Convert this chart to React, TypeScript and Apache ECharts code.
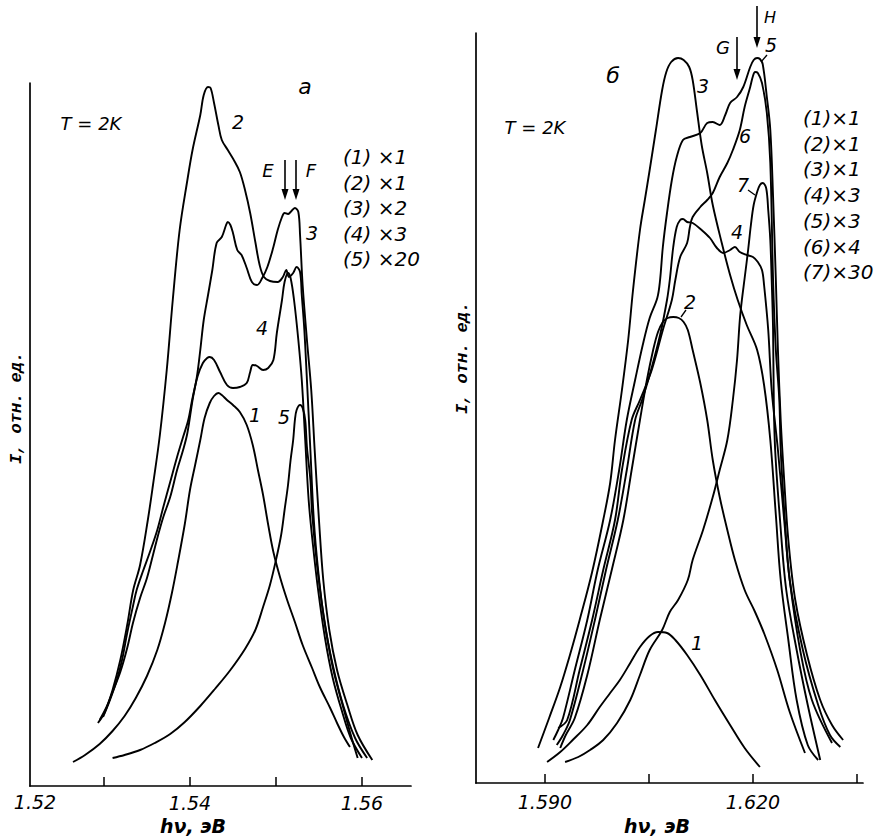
import React, { useEffect, useRef } from "react";
import * as echarts from "echarts";

// ---- axis ticks / labels ----
const panelATicks = [1.53, 1.54, 1.55, 1.56];
const panelALabelValues = [1.52, 1.54, 1.56];
const panelBTicks = [1.59, 1.605, 1.62, 1.635];
const panelBLabelValues = [1.59, 1.62];

// ---- intensity multipliers (legend) ----
const panelAFactors = [1, 1, 2, 3, 20];
const panelBFactors = [1, 1, 1, 3, 3, 4, 30];

// ---- panel а : [hν (eV), I (rel. units)] ----
const a1 = [
  [1.5264, 2.4], [1.5278, 3.1], [1.5295, 4.2], [1.531, 5.5], [1.5324, 7.0], [1.5337, 8.8],
  [1.535, 11.0], [1.5362, 13.6], [1.5371, 16.3], [1.5379, 19.3], [1.5386, 22.4], [1.5394, 26.2],
  [1.54, 29.6], [1.5406, 32.1], [1.5412, 34.6], [1.5417, 36.8], [1.5423, 38.3], [1.5428, 39.0],
  [1.5433, 39.3], [1.5437, 39.1], [1.5443, 38.6], [1.545, 38.1], [1.5458, 37.4], [1.5466, 36.1],
  [1.5473, 34.1], [1.5479, 31.6], [1.5485, 29.1], [1.5491, 26.1], [1.5497, 23.4], [1.5505, 20.8],
  [1.5513, 18.6], [1.5522, 16.4], [1.5531, 14.1], [1.5542, 11.8], [1.5551, 9.9], [1.5563, 7.8],
  [1.5571, 6.3], [1.5579, 4.9], [1.5586, 3.9],
];
const a2 = [
  [1.5293, 6.3], [1.5301, 7.4], [1.531, 9.6], [1.5319, 12.6], [1.5327, 16.1], [1.5334, 19.6],
  [1.5342, 22.1], [1.5351, 26.6], [1.5357, 30.1], [1.5365, 35.1], [1.5373, 41.6], [1.538, 48.6],
  [1.5388, 55.6], [1.5397, 60.6], [1.5403, 63.6], [1.5412, 67.1], [1.5416, 69.1], [1.5421, 69.9],
  [1.5424, 69.8], [1.5428, 68.3], [1.5433, 66.1], [1.5437, 64.6], [1.5444, 63.6], [1.5451, 62.6],
  [1.5458, 61.4], [1.5464, 59.6], [1.547, 57.3], [1.5476, 54.4], [1.5481, 52.1], [1.5486, 50.9],
  [1.5493, 50.5], [1.5502, 50.4], [1.5508, 50.9], [1.5512, 51.6], [1.5515, 50.9], [1.552, 51.3],
  [1.5524, 51.9], [1.5528, 51.4], [1.553, 49.1], [1.5533, 45.6], [1.5536, 40.6], [1.554, 33.6],
  [1.5544, 26.6], [1.5549, 21.6], [1.5556, 16.6], [1.5566, 12.1], [1.5578, 8.1], [1.5592, 4.8],
  [1.5606, 2.8],
];
const a3 = [
  [1.5295, 6.6], [1.5303, 7.9], [1.531, 9.4], [1.5319, 11.4], [1.5327, 13.8], [1.5334, 16.4],
  [1.5342, 18.8], [1.535, 20.8], [1.5357, 23.1], [1.5363, 25.1], [1.5369, 26.9], [1.5377, 28.9],
  [1.5385, 31.6], [1.5392, 33.6], [1.5397, 35.3], [1.5403, 38.6], [1.5408, 40.9], [1.5412, 43.6],
  [1.5416, 46.6], [1.5421, 49.1], [1.5426, 51.6], [1.5431, 54.3], [1.5437, 54.9], [1.5442, 56.1],
  [1.5444, 56.4], [1.5447, 56.1], [1.545, 55.3], [1.5455, 53.6], [1.546, 53.1], [1.5466, 51.8],
  [1.5472, 50.4], [1.5478, 50.1], [1.5484, 50.8], [1.549, 51.9], [1.5497, 53.9], [1.5502, 55.6],
  [1.5507, 56.9], [1.551, 57.3], [1.5514, 57.2], [1.5517, 57.4], [1.5522, 57.8], [1.5526, 57.4],
  [1.5528, 55.1], [1.5531, 50.1], [1.5536, 44.6], [1.5541, 39.6], [1.5545, 33.6], [1.555, 26.6],
  [1.5555, 20.6], [1.5562, 15.6], [1.5571, 11.6], [1.5583, 8.1], [1.5595, 5.1], [1.5612, 2.6],
];
const a4 = [
  [1.5299, 6.9], [1.5307, 8.6], [1.5315, 10.6], [1.5321, 12.6], [1.5327, 15.3], [1.5334, 18.1],
  [1.5338, 19.6], [1.5345, 21.4], [1.5353, 23.3], [1.5362, 25.6], [1.5369, 27.9], [1.5377, 30.4],
  [1.5385, 32.9], [1.5392, 34.9], [1.5398, 36.6], [1.5403, 38.8], [1.5409, 41.0], [1.5415, 42.3],
  [1.542, 42.8], [1.5423, 42.9], [1.5428, 42.6], [1.5435, 41.4], [1.5443, 40.1], [1.545, 39.8],
  [1.5458, 39.9], [1.5466, 40.3], [1.547, 41.4], [1.5473, 42.1], [1.5478, 42.0], [1.5485, 41.6],
  [1.5491, 41.8], [1.5497, 42.6], [1.5501, 45.3], [1.5507, 48.6], [1.551, 50.4], [1.5514, 51.3],
  [1.5517, 50.8], [1.5521, 48.6], [1.5526, 44.6], [1.553, 40.6], [1.5534, 34.6], [1.5538, 28.6],
  [1.5543, 24.1], [1.5549, 19.6], [1.5557, 14.8], [1.5566, 10.8], [1.5577, 7.4], [1.5587, 4.8],
  [1.56, 2.8],
];
const a5 = [
  [1.531, 2.8], [1.5324, 3.1], [1.5342, 3.6], [1.5359, 4.3], [1.5377, 5.2], [1.5394, 6.4],
  [1.5412, 8.0], [1.5429, 9.7], [1.5447, 11.6], [1.5464, 13.7], [1.5476, 15.6], [1.5485, 17.9],
  [1.5493, 20.1], [1.55, 22.6], [1.5506, 25.1], [1.551, 27.6], [1.5514, 30.1], [1.5517, 32.6],
  [1.552, 34.6], [1.5522, 36.6], [1.5524, 37.6], [1.5528, 38.1], [1.5531, 37.8], [1.5534, 36.6],
  [1.5536, 33.9], [1.554, 30.6], [1.5542, 27.3], [1.5548, 21.9], [1.5555, 17.3], [1.5566, 11.9],
  [1.558, 7.3], [1.5588, 4.8], [1.5595, 2.8],
];

// ---- panel б : [hν (eV), I (rel. units)] ----
const b1 = [
  [1.5903, 2.1], [1.5922, 3.1], [1.594, 4.3], [1.5961, 5.8], [1.5979, 7.6], [1.5994, 9.0],
  [1.6008, 10.3], [1.6023, 12.0], [1.6037, 13.6], [1.6051, 14.7], [1.6063, 15.1], [1.6076, 15.0],
  [1.6088, 14.3], [1.6105, 12.8], [1.6124, 10.8], [1.6145, 8.3], [1.6167, 5.8], [1.6188, 3.5],
  [1.621, 1.6],
];
const b2 = [
  [1.5922, 3.5], [1.593, 4.8], [1.5943, 6.5], [1.5961, 10.8], [1.5979, 16.3], [1.5997, 21.5],
  [1.6013, 26.3], [1.6025, 31.3], [1.6037, 36.3], [1.6047, 40.3], [1.6056, 43.3], [1.6063, 45.1],
  [1.607, 46.1], [1.6077, 46.5], [1.6085, 46.6], [1.6093, 46.5], [1.61, 46.1], [1.6106, 45.3],
  [1.6113, 43.3], [1.6124, 40.0], [1.6134, 36.3], [1.6142, 32.3], [1.6152, 28.6], [1.6163, 25.3],
  [1.6174, 22.3], [1.6188, 19.3], [1.6203, 17.1], [1.6217, 14.8], [1.6235, 11.3], [1.6253, 7.1],
  [1.6275, 3.0],
];
const b3 = [
  [1.589, 3.5], [1.5906, 6.5], [1.5922, 9.6], [1.5936, 12.8], [1.595, 16.3], [1.5968, 21.1],
  [1.5984, 26.3], [1.5994, 30.0], [1.6001, 34.3], [1.6011, 39.3], [1.602, 44.3], [1.6027, 49.3],
  [1.6037, 55.3], [1.6044, 58.3], [1.6051, 61.3], [1.606, 65.3], [1.6069, 69.3], [1.6075, 71.1],
  [1.6082, 72.1], [1.6092, 72.5], [1.61, 72.3], [1.6108, 71.6], [1.6113, 70.3], [1.6119, 67.3],
  [1.6126, 63.8], [1.6134, 61.0], [1.6142, 57.8], [1.6155, 54.0], [1.6167, 50.8], [1.6178, 48.3],
  [1.6191, 45.8], [1.6206, 43.3], [1.6216, 39.8], [1.6225, 34.3], [1.6233, 26.8], [1.624, 20.3],
  [1.6251, 14.3], [1.6263, 8.3], [1.6279, 3.8], [1.6294, 2.3],
];
const b4 = [
  [1.5917, 3.8], [1.5926, 4.8], [1.5936, 6.3], [1.5955, 11.3], [1.5972, 16.3], [1.5988, 21.3],
  [1.6005, 26.3], [1.6018, 31.3], [1.603, 36.3], [1.604, 38.3], [1.6051, 40.8], [1.6066, 44.8],
  [1.6076, 48.3], [1.608, 50.3], [1.6085, 53.6], [1.609, 55.6], [1.6095, 56.3], [1.6099, 56.4],
  [1.6105, 56.1], [1.6113, 56.0], [1.6126, 55.3], [1.6138, 54.5], [1.6148, 53.5], [1.6157, 53.0],
  [1.6167, 53.3], [1.6174, 53.6], [1.6181, 53.1], [1.6191, 52.8], [1.62, 52.6], [1.6207, 52.1],
  [1.6213, 51.3], [1.6216, 49.8], [1.6222, 45.3], [1.6227, 39.3], [1.6236, 33.3], [1.6245, 26.3],
  [1.6253, 20.3], [1.6268, 13.3], [1.6285, 8.3], [1.6314, 4.0],
];
const b5 = [
  [1.5912, 4.3], [1.5919, 5.3], [1.5926, 6.5], [1.5943, 11.3], [1.5961, 16.3], [1.5976, 21.3],
  [1.5994, 26.3], [1.6007, 31.3], [1.6018, 36.3], [1.603, 40.3], [1.6041, 43.8], [1.6051, 46.5],
  [1.6062, 48.5], [1.6066, 50.3], [1.607, 53.6], [1.6076, 57.0], [1.6083, 60.3], [1.609, 62.6],
  [1.6099, 64.3], [1.6109, 64.6], [1.6124, 65.0], [1.6134, 66.0], [1.6142, 66.1], [1.6152, 65.8],
  [1.616, 66.8], [1.6167, 68.0], [1.6177, 68.6], [1.6186, 69.6], [1.6196, 71.6], [1.6201, 72.3],
  [1.6206, 72.5], [1.621, 72.4], [1.6214, 71.9], [1.622, 68.6], [1.6225, 65.3], [1.6229, 58.6],
  [1.6233, 50.3], [1.6236, 43.3], [1.624, 36.3], [1.6245, 30.3], [1.6251, 24.3], [1.6261, 18.3],
  [1.6278, 12.8], [1.6297, 8.3], [1.6314, 5.8], [1.633, 4.3],
];
const b6 = [
  [1.5919, 5.5], [1.5932, 6.3], [1.595, 11.3], [1.5968, 16.3], [1.5984, 21.3], [1.6001, 26.3],
  [1.6011, 31.3], [1.6025, 36.3], [1.6037, 38.3], [1.6054, 41.3], [1.607, 45.3], [1.6083, 48.3],
  [1.6088, 50.3], [1.6095, 52.6], [1.6105, 54.0], [1.6109, 55.6], [1.6113, 56.6], [1.6124, 57.6],
  [1.6134, 58.3], [1.6142, 59.0], [1.6152, 60.6], [1.6163, 62.0], [1.6171, 63.3], [1.6181, 65.3],
  [1.6188, 67.6], [1.6196, 69.6], [1.62, 70.7], [1.6203, 71.1], [1.6207, 71.0], [1.6213, 70.0],
  [1.622, 67.0], [1.6225, 62.0], [1.6229, 50.3], [1.6233, 43.3], [1.6238, 38.3], [1.624, 33.3],
  [1.6246, 26.3], [1.6253, 20.3], [1.6272, 13.3], [1.6294, 7.8], [1.6311, 4.8], [1.6326, 3.6],
];
const b7 = [
  [1.5929, 2.1], [1.5948, 2.6], [1.5965, 3.3], [1.5984, 4.3], [1.6004, 6.0], [1.6023, 8.3],
  [1.6037, 10.8], [1.6051, 13.3], [1.6069, 15.3], [1.608, 17.1], [1.6092, 18.3], [1.6106, 20.3],
  [1.6113, 22.3], [1.6128, 25.3], [1.6142, 28.6], [1.6152, 31.3], [1.6163, 34.3], [1.6171, 38.3],
  [1.6177, 42.3], [1.6181, 46.3], [1.6184, 48.3], [1.6188, 50.5], [1.6193, 53.3], [1.6197, 55.8],
  [1.6201, 57.8], [1.6206, 59.1], [1.621, 59.8], [1.6214, 60.0], [1.6219, 59.5], [1.6222, 57.3],
  [1.6225, 54.3], [1.6227, 50.3], [1.6229, 45.3], [1.623, 38.3], [1.6232, 33.3], [1.6239, 26.3],
  [1.6248, 19.3], [1.6263, 13.3], [1.6279, 7.8], [1.6297, 2.3],
];

const panelASeries = [a1, a2, a3, a4, a5];
const panelBSeries = [b1, b2, b3, b4, b5, b6, b7];

// ---- layout / style (pixels) ----
const W = 884;
const H = 838;
const gridA = { left: 30, top: 83, width: 381, height: 703 };
const gridB = { left: 476, top: 33, width: 387, height: 750 };
const xRangeA = [1.5214, 1.5657];
const xRangeB = [1.58005, 1.63587];
const yMaxA = 70.3;
const yMaxB = 75;

const FONT = '"DejaVu Sans", sans-serif';
const MONO = '"Liberation Mono", "DejaVu Sans Mono", monospace';

function txt(x: number, y: number, text: string, size = 18, align = "center", extra: any = {}) {
  return {
    type: "text",
    x,
    y,
    silent: true,
    ...extra,
    style: {
      text,
      font: `italic ${extra.weight || "normal"} ${size}px ${extra.family || FONT}`,
      fill: "#000",
      textAlign: align,
      textVerticalAlign: "middle",
    },
  };
}

function arrow(x: number, y1: number, y2: number) {
  return [
    { type: "line", silent: true, shape: { x1: x, y1, x2: x, y2: y2 - 6 }, style: { stroke: "#000", lineWidth: 1.6 } },
    {
      type: "polygon",
      silent: true,
      shape: { points: [[x - 3.5, y2 - 11], [x + 3.5, y2 - 11], [x, y2]] },
      style: { fill: "#000" },
    },
  ];
}

function leader(x1: number, y1: number, x2: number, y2: number) {
  return { type: "line", silent: true, shape: { x1, y1, x2, y2 }, style: { stroke: "#000", lineWidth: 1.3 } };
}

export default function App() {
  const ref = useRef<HTMLDivElement>(null);

  useEffect(() => {
    if (!ref.current) return;
    const chart = echarts.init(ref.current, undefined, { renderer: "svg" });

    const axisLine = { show: true, onZero: false, lineStyle: { color: "#000", width: 1.7 } };
    const labelStyle = { color: "#000", fontFamily: FONT, fontStyle: "italic", fontSize: 19 };

    const lineSeries = (data: number[][], idx: number) => ({
      type: "line",
      xAxisIndex: idx,
      yAxisIndex: idx,
      data,
      smooth: 0.35,
      showSymbol: false,
      symbol: "none",
      silent: true,
      lineStyle: { color: "#000", width: 1.9 },
    });

    const graphics: any[] = [];
    // panel а annotations
    graphics.push(txt(91, 123, "T = 2K", 18));
    graphics.push(txt(305, 86, "а", 22));
    panelAFactors.forEach((f, i) => graphics.push(txt(343, 157 + i * 25.6, `(${i + 1}) ×${f}`, 20, "left")));
    graphics.push(txt(238, 122, "2", 19));
    graphics.push(txt(312, 233, "3", 19));
    graphics.push(txt(262, 328, "4", 19));
    graphics.push(txt(255, 415, "1", 19));
    graphics.push(txt(284, 417, "5", 19));
    graphics.push(txt(268, 170, "E", 18));
    graphics.push(txt(311, 170, "F", 18));
    graphics.push(...arrow(285, 160, 200));
    graphics.push(...arrow(296, 160, 200));
    graphics.push(txt(35, 802, panelALabelValues[0].toFixed(2), 19));
    graphics.push(txt(193, 826, "hν, эВ", 19, "center", { weight: "bold" }));
    graphics.push(txt(16, 408, "I, отн. ед.", 17, "center", { rotation: Math.PI / 2, family: MONO, weight: "bold" }));

    // panel б annotations
    graphics.push(txt(535, 127, "T = 2K", 18));
    graphics.push(txt(613, 75, "б", 22));
    panelBFactors.forEach((f, i) => graphics.push(txt(803, 118 + i * 25.7, `(${i + 1})×${f}`, 20, "left")));
    graphics.push(txt(703, 86, "3", 19));
    graphics.push(txt(745, 136, "6", 19));
    graphics.push(txt(743, 185, "7", 19));
    graphics.push(leader(748, 190, 755, 195));
    graphics.push(txt(737, 232, "4", 19));
    graphics.push(txt(771, 45, "5", 19));
    graphics.push(leader(767, 55, 761, 62));
    graphics.push(txt(690, 302, "2", 19));
    graphics.push(leader(686, 310, 681, 317));
    graphics.push(txt(697, 643, "1", 19));
    graphics.push(txt(723, 47, "G", 18));
    graphics.push(txt(770, 17, "H", 16));
    graphics.push(...arrow(737, 37, 80));
    graphics.push(...arrow(757, 6, 48));
    graphics.push(txt(657, 826, "hν, эВ", 19, "center", { weight: "bold" }));
    graphics.push(txt(462, 358, "I, отн. ед.", 17, "center", { rotation: Math.PI / 2, family: MONO, weight: "bold" }));

    chart.setOption({
      animation: false,
      backgroundColor: "#fff",
      grid: [
        { ...gridA, containLabel: false },
        { ...gridB, containLabel: false },
      ],
      xAxis: [
        {
          gridIndex: 0,
          type: "value",
          min: xRangeA[0],
          max: xRangeA[1],
          axisLine,
          axisTick: { show: true, inside: true, length: 9, customValues: panelATicks, lineStyle: { color: "#000", width: 1.5 } },
          axisLabel: {
            show: true,
            customValues: panelALabelValues.filter((v) => v >= xRangeA[0]),
            formatter: (v: number) => v.toFixed(2),
            margin: 7,
            ...labelStyle,
          },
          splitLine: { show: false },
        },
        {
          gridIndex: 1,
          type: "value",
          min: xRangeB[0],
          max: xRangeB[1],
          axisLine,
          axisTick: { show: true, inside: true, length: 9, customValues: panelBTicks, lineStyle: { color: "#000", width: 1.5 } },
          axisLabel: {
            show: true,
            customValues: panelBLabelValues,
            formatter: (v: number) => v.toFixed(3),
            margin: 9,
            ...labelStyle,
          },
          splitLine: { show: false },
        },
      ],
      yAxis: [
        { gridIndex: 0, type: "value", min: 0, max: yMaxA, axisLine, axisTick: { show: false }, axisLabel: { show: false }, splitLine: { show: false } },
        { gridIndex: 1, type: "value", min: 0, max: yMaxB, axisLine, axisTick: { show: false }, axisLabel: { show: false }, splitLine: { show: false } },
      ],
      series: [
        ...panelASeries.map((d) => lineSeries(d, 0)),
        ...panelBSeries.map((d) => lineSeries(d, 1)),
      ],
      graphic: graphics,
    });

    return () => chart.dispose();
  }, []);

  return (
    <div
      ref={ref}
      style={{ position: "absolute", left: 0, top: 0, width: W, height: H, background: "#fff" }}
    />
  );
}
